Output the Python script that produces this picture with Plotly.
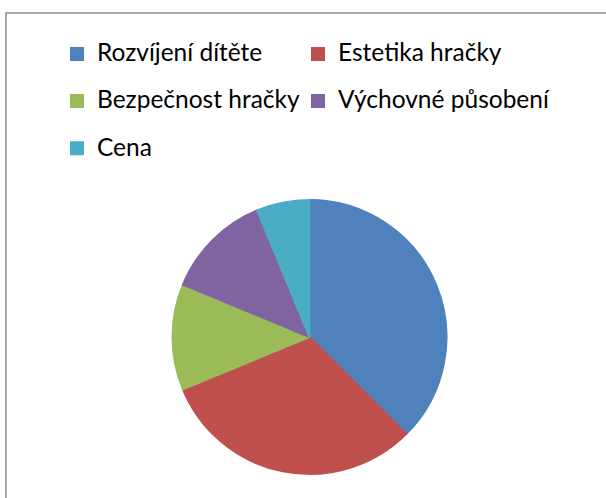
import plotly.graph_objects as go

labels = ["Rozvíjení dítěte", "Estetika hračky", "Bezpečnost hračky", "Výchovné působení", "Cena"]
values = [6, 5, 2, 2, 1]
colors = ["#4F81BD", "#C0504D", "#9BBB59", "#8064A2", "#4BACC6"]

W, H = 606, 498
TEXT_PX = 24.5

legend_labels = [
    f'<span style="font-size:{TEXT_PX}px; baseline-shift:6px">{t}</span>' for t in labels
]

# blank (whitespace-only) legend title: only keeps the legend box wide enough
# so that the second legend column is not clipped
spacer = '<span style="font-size:20px; font-family:Liberation Sans">' + "&nbsp;" * 90 + "</span>"

fig = go.Figure(go.Pie(
    labels=legend_labels,
    values=values,
    sort=False,
    direction="clockwise",
    rotation=0,
    textinfo="none",
    hoverinfo="label+percent",
    marker=dict(colors=colors, line=dict(color=colors, width=2)),
    domain=dict(x=[172.5 / W, 446.5 / W], y=[24 / H, 298 / H]),
))

fig.update_layout(
    width=W, height=H,
    margin=dict(l=0, r=0, t=0, b=0),
    paper_bgcolor="white",
    plot_bgcolor="white",
    font=dict(family="Lato, Carlito, sans-serif", color="black"),
    showlegend=True,
    legend=dict(
        orientation="h",
        x=57 / W, xanchor="left",
        y=1 - 24 / H, yanchor="top",
        font=dict(size=34, family="Lato, Carlito, sans-serif", color="black"),
        entrywidth=196, entrywidthmode="pixels",
        bgcolor="rgba(0,0,0,0)",
        traceorder="normal",
        title=dict(text=spacer, font=dict(size=1, color="rgba(0,0,0,0)"), side="top"),
    ),
    shapes=[dict(type="rect", xref="paper", yref="paper",
                 x0=6 / W, x1=1.05, y0=-0.05, y1=1 - 13 / H,
                 line=dict(color="#8c8c8c", width=1.5), fillcolor="rgba(0,0,0,0)",
                 layer="below")],
)

fig.write_html("out.html", config={"displayModeBar": False},
               post_script="document.body.style.margin='0';")
